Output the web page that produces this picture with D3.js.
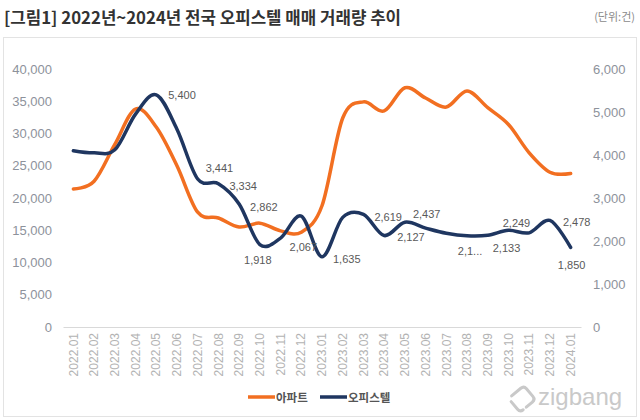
<!DOCTYPE html>
<html><head><meta charset="utf-8">
<script src="https://cdn.jsdelivr.net/npm/d3@7"></script>
<style>
html,body{margin:0;padding:0;background:#fff;}
svg{display:block;}
</style></head>
<body>
<svg id="chart" width="640" height="420"></svg>
<script>
const months = ["2022.01","2022.02","2022.03","2022.04","2022.05","2022.06","2022.07","2022.08","2022.09","2022.10","2022.11","2022.12",
"2023.01","2023.02","2023.03","2023.04","2023.05","2023.06","2023.07","2023.08","2023.09","2023.10","2023.11","2023.12","2024.01"];
const apartment = [21400,22600,28300,33800,31000,25000,17800,16900,15500,16100,14900,14700,
18800,32400,34900,33500,37100,35500,34100,36600,34000,31400,27000,24000,23800];
const officetel = [4100,4050,4120,4950,5400,4600,3441,3334,2862,1918,2067,2580,
1635,2550,2619,2127,2437,2300,2180,2120,2133,2249,2190,2478,1850];
const officetelLabels = [null,null,null,null,"5,400",null,"3,441","3,334","2,862","1,918","2,067",null,
"1,635",null,"2,619","2,127","2,437",null,null,"2,1...","2,133","2,249",null,"2,478","1,850"];
const leftTicks = [0,5000,10000,15000,20000,25000,30000,35000,40000];
const rightTicks = [0,1000,2000,3000,4000,5000,6000];
const seriesNames = ["아파트","오피스텔"];
const titleText = "[그림1] 2022년~2024년 전국 오피스텔 매매 거래량 추이";
const unitText = "(단위:건)";

const svg = d3.select("#chart");
const ORANGE = "#f26f21", NAVY = "#1f3660";
const numFont = "'Liberation Sans', Arial, sans-serif";
const krFont = "'Noto Sans CJK KR', 'Noto Sans', sans-serif";

svg.append("rect").attr("width",640).attr("height",420).attr("fill","#fff");
svg.append("rect").attr("x",3.5).attr("y",37.5).attr("width",633).attr("height",379)
  .attr("fill","none").attr("stroke","#e3e3e3");

svg.append("text").attr("x",4).attr("y",24).text(titleText)
  .attr("font-family",krFont).attr("font-weight","bold").attr("font-size",16.8).attr("fill","#333");
svg.append("text").attr("x",635).attr("y",21).attr("text-anchor","end").text(unitText)
  .attr("font-family",krFont).attr("font-size",11).attr("fill","#8a8a8a");

const x = d3.scaleBand().domain(months).range([63,581]);
const cx = d => x(d) + x.bandwidth()/2;
const yL = d3.scaleLinear().domain([0,40000]).range([327,69]);
const yR = d3.scaleLinear().domain([0,6000]).range([327,69]);

const axL = svg.append("g").attr("transform","translate(63,0)")
  .call(d3.axisLeft(yL).tickValues(leftTicks).tickFormat(d3.format(",")).tickSize(0).tickPadding(11));
axL.select(".domain").remove();
axL.selectAll("text").attr("font-family",numFont).attr("font-size",13).attr("fill","#8d929b");

const axR = svg.append("g").attr("transform","translate(581,0)")
  .call(d3.axisRight(yR).tickValues(rightTicks).tickFormat(d3.format(",")).tickSize(0).tickPadding(12));
axR.select(".domain").remove();
axR.selectAll("text").attr("font-family",numFont).attr("font-size",13).attr("fill","#8d929b");

const axB = svg.append("g").attr("transform","translate(0,327)")
  .call(d3.axisBottom(x).tickSize(0).tickSizeOuter(0));
axB.select(".domain").attr("stroke","#d9d9d9").attr("stroke-width",1);
axB.selectAll("text").attr("font-family",numFont).attr("font-size",12).attr("fill","#b3b3b3")
  .attr("transform","rotate(-90)").attr("x",-6).attr("y",0).attr("dy","0.35em").style("text-anchor","end");

const curve = d3.curveCardinal.tension(0);
const lineA = d3.line().x((d,i)=>cx(months[i])).y(d=>yL(d)).curve(curve);
const lineO = d3.line().x((d,i)=>cx(months[i])).y(d=>yR(d)).curve(curve);
svg.append("path").attr("d",lineA(apartment)).attr("fill","none").attr("stroke",ORANGE)
  .attr("stroke-width",3.5).attr("stroke-linecap","round").attr("stroke-linejoin","round");
svg.append("path").attr("d",lineO(officetel)).attr("fill","none").attr("stroke",NAVY)
  .attr("stroke-width",3.5).attr("stroke-linecap","round").attr("stroke-linejoin","round");

// label placement (style): dx, dy, anchor
const place = {
  4:[12,4,"start"], 6:[8,-7,"start"], 7:[11,6,"start"], 8:[11,7,"start"], 9:[-2,19,"middle"],
  10:[9,13,"start"], 12:[11,6,"start"], 14:[11,7,"start"], 15:[13,5,"start"], 16:[8,-4,"start"],
  19:[3,19,"middle"], 20:[5,17,"start"], 21:[8,-3,"middle"], 23:[13,6,"start"], 24:[1,22,"middle"]
};
svg.append("g").selectAll("text").data(officetelLabels.map((l,i)=>({l,i})).filter(d=>d.l))
  .join("text")
  .attr("x",d=>cx(months[d.i]) + place[d.i][0])
  .attr("y",d=>yR(officetel[d.i]) + place[d.i][1])
  .attr("text-anchor",d=>place[d.i][2])
  .attr("font-family",numFont).attr("font-size",11).attr("fill","#595959")
  .text(d=>d.l);

// legend
const lg = svg.append("g");
const legItems = [{name:seriesNames[0],c:ORANGE,x:248},{name:seriesNames[1],c:NAVY,x:320}];
legItems.forEach(it=>{
  lg.append("line").attr("x1",it.x).attr("x2",it.x+27).attr("y1",397).attr("y2",397)
    .attr("stroke",it.c).attr("stroke-width",3.5);
  lg.append("text").attr("x",it.x+28).attr("y",401.5).text(it.name)
    .attr("font-family",krFont).attr("font-weight","bold").attr("font-size",11.5).attr("fill","#555");
});

// zigbang logo
const logo = svg.append("g").attr("transform","translate(522,399)");
logo.append("path")
  .attr("d","M-6,-9 L6,-9 Q10,-9 10,-5 L10,5 Q10,9 6,9 L-2,9")
  .attr("transform","rotate(-40)")
  .attr("fill","none").attr("stroke","#c9c9c9").attr("stroke-width",3).attr("stroke-linecap","round");
logo.append("path")
  .attr("d","M-6,9 Q-10,9 -10,5 L-10,-5")
  .attr("transform","rotate(-40)")
  .attr("fill","none").attr("stroke","#c9c9c9").attr("stroke-width",3).attr("stroke-linecap","round");
svg.append("text").attr("x",538).attr("y",405).text("zigbang")
  .attr("font-family","'Liberation Sans', Arial, sans-serif").attr("font-size",24).attr("fill","#c9c9c9");
</script>
</body></html>
